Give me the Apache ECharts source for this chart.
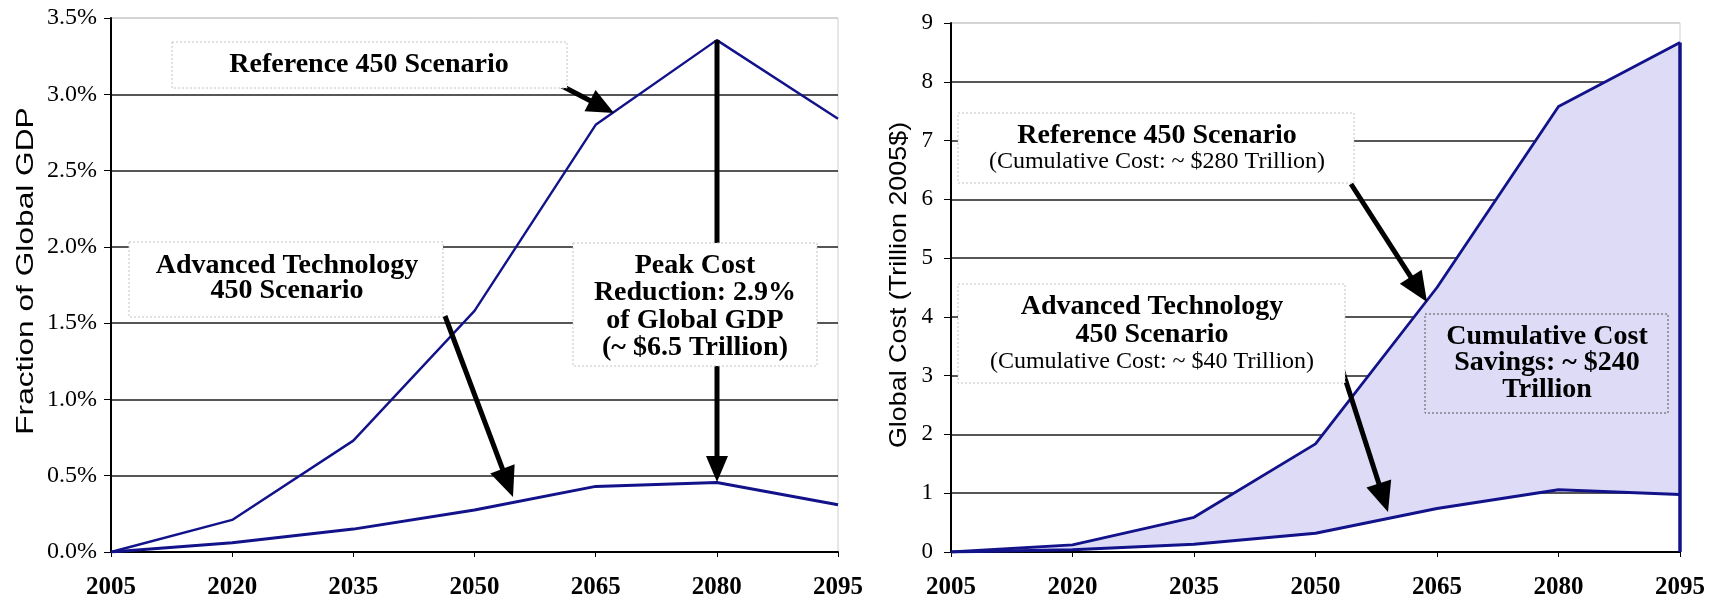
<!DOCTYPE html>
<html><head><meta charset="utf-8">
<script src="https://cdn.jsdelivr.net/npm/echarts@6/dist/echarts.min.js"></script>
<style>html,body{margin:0;padding:0;background:#fff}#c{width:1714px;height:602px}</style>
</head><body><div id="c"></div>
<script>
// ---- data ----
const years = ['2005','2020','2035','2050','2065','2080','2095'];
const gdpRef = [0, 0.21, 0.73, 1.58, 2.80, 3.355, 2.84];   // % of global GDP
const gdpAdv = [0, 0.06, 0.15, 0.275, 0.43, 0.455, 0.31];
const costRef = [0, 0.12, 0.59, 1.84, 4.50, 7.58, 8.67];  // trillion 2005$
const costAdv = [0, 0.04, 0.13, 0.32, 0.74, 1.06, 0.98];
const gdpTicks = ['0.0%','0.5%','1.0%','1.5%','2.0%','2.5%','3.0%','3.5%'];
const costTicks = ['0','1','2','3','4','5','6','7','8','9'];

const costGap = costRef.map((v, i) => +(v - costAdv[i]).toFixed(4));

const chart = echarts.init(document.getElementById('c'));
const SERIF = 'Liberation Serif';
const SANS = 'Liberation Sans';
const LINE = '#12128a';
const GRIDC = '#1e1e1e';

function splitColors(n){ const a=[]; for(let i=0;i<n-1;i++) a.push(GRIDC); a.push('#cfcfcf'); return a; }

function arrow(x1,y1,x2,y2,lw,hl,hw){
  const dx=x2-x1, dy=y2-y1, L=Math.hypot(dx,dy), ux=dx/L, uy=dy/L;
  const bx=x2-ux*hl, by=y2-uy*hl, px=-uy, py=ux;
  return [
    {type:'line', z:50, shape:{x1:x1,y1:y1,x2:bx+ux*3,y2:by+uy*3}, style:{stroke:'#000', lineWidth:lw}},
    {type:'polygon', z:51, shape:{points:[[x2,y2],[bx+px*hw,by+py*hw],[bx-px*hw,by-py*hw]]}, style:{fill:'#000'}}
  ];
}
function box(x,y,w,h,opts){
  opts = opts || {};
  return {type:'rect', z:60, shape:{x:x,y:y,width:w,height:h},
    style:{fill: opts.fill === undefined ? '#fff' : opts.fill, stroke: opts.stroke || '#c4c4c4', lineWidth:1, lineDash:[2,2]}};
}
function txt(x,y,s,size,bold){
  return {type:'text', z:70, x:x, y:y, style:{text:s, fontFamily:SERIF, fontSize:size, fontWeight: bold ? 'bold' : 'normal',
    fill:'#000', align:'center', verticalAlign:'middle'}};
}

const graphics = [].concat(
  // left chart annotations
  arrow(560,85,614,113,5,27,12),
  arrow(445,316,513,497,5,30,13),
  arrow(717,40,717,482,5,26,11),
  [box(172,42,395,46), txt(369,65,'Reference 450 Scenario',28,true)],
  [box(129,242,314,75), txt(287,266,'Advanced Technology',28,true), txt(287,291,'450 Scenario',28,true)],
  [box(573,243,244,123),
   txt(695,266,'Peak Cost',28,true), txt(695,293,'Reduction: 2.9%',28,true),
   txt(695,321,'of Global GDP',28,true), txt(695,348,'(~ $6.5 Trillion)',28,true)],
  // right chart annotations
  arrow(1351,184,1427,302,5,30,13),
  arrow(1342,369,1388,512,5,30,13),
  [box(958,113,396,70), txt(1157,136,'Reference 450 Scenario',28,true), txt(1157,162,'(Cumulative Cost: ~ $280 Trillion)',24,false)],
  [box(958,284,387,99), txt(1152,307,'Advanced Technology',28,true), txt(1152,335,'450 Scenario',28,true),
   txt(1152,362,'(Cumulative Cost: ~ $40 Trillion)',24,false)],
  [box(1425,314,243,99,{fill:'transparent', stroke:'#555'}),
   txt(1547,337,'Cumulative Cost',28,true), txt(1547,363,'Savings: ~ $240',28,true), txt(1547,390,'Trillion',28,true)],
  // axis titles
  [{type:'text', z:70, x:26, y:271, rotation:Math.PI/2, scaleX:1.32,
    style:{text:'Fraction of Global GDP', fontFamily:SANS, fontSize:24, fill:'#000', align:'center', verticalAlign:'middle'}},
   {type:'text', z:70, x:899, y:285, rotation:Math.PI/2, scaleX:1.12,
    style:{text:'Global Cost (Trillion 2005$)', fontFamily:SANS, fontSize:24, fill:'#000', align:'center', verticalAlign:'middle'}}]
);

function xAxis(gi){
  return {type:'category', gridIndex:gi, data:years, boundaryGap:false,
    axisLine:{lineStyle:{color:'#000', width:2}},
    axisTick:{show:true, length:5, lineStyle:{color:'#000', width:1}},
    axisLabel:{color:'#000', fontFamily:SERIF, fontWeight:'bold', fontSize:25, margin:23},
    splitLine:{show:false}};
}

const option = {
  animation:false,
  backgroundColor:'#fff',
  grid:[
    {left:111, top:18, width:727, height:534, show:true, borderColor:'#cfcfcf', borderWidth:1},
    {left:951, top:23, width:729, height:529, show:true, borderColor:'#cfcfcf', borderWidth:1}
  ],
  xAxis:[xAxis(0), xAxis(1)],
  yAxis:[
    {type:'value', gridIndex:0, min:0, max:3.5, interval:0.5,
     axisLine:{show:true, lineStyle:{color:'#000', width:2}},
     axisTick:{show:true, length:7, lineStyle:{color:'#000'}},
     axisLabel:{color:'#000', fontFamily:SERIF, fontSize:24, margin:14, formatter:(v,i)=>gdpTicks[i]},
     splitLine:{show:true, lineStyle:{color:splitColors(gdpTicks.length), width:1.5}}},
    {type:'value', gridIndex:1, min:0, max:9, interval:1,
     axisLine:{show:true, lineStyle:{color:'#000', width:2}},
     axisTick:{show:true, length:7, lineStyle:{color:'#000'}},
     axisLabel:{color:'#000', fontFamily:SERIF, fontSize:23, margin:18, formatter:(v,i)=>costTicks[i]},
     splitLine:{show:true, lineStyle:{color:splitColors(costTicks.length), width:1.5}}}
  ],
  series:[
    {name:'Reference 450 Scenario', type:'line', xAxisIndex:0, yAxisIndex:0, data:gdpRef,
     showSymbol:false, lineStyle:{color:LINE, width:2.4}},
    {name:'Advanced Technology 450 Scenario', type:'line', xAxisIndex:0, yAxisIndex:0, data:gdpAdv,
     showSymbol:false, lineStyle:{color:LINE, width:3}},
    {name:'Advanced Technology 450 Scenario (cost)', type:'line', xAxisIndex:1, yAxisIndex:1, data:costAdv,
     stack:'cost', showSymbol:false, lineStyle:{color:LINE, width:3},
     markLine:{silent:true, symbol:['none','none'], label:{show:false},
       lineStyle:{color:LINE, width:3.5, type:'solid'},
       data:[[{coord:[years[years.length-1], 0]},{coord:[years[years.length-1], costRef[costRef.length-1]]}]]}},
    {name:'Reference 450 Scenario (cost)', type:'line', xAxisIndex:1, yAxisIndex:1, data:costGap,
     stack:'cost', showSymbol:false, lineStyle:{color:LINE, width:2.8},
     areaStyle:{color:'#dedbf6', opacity:1}}
  ],
  graphic:graphics
};
chart.setOption(option);
</script></body></html>
